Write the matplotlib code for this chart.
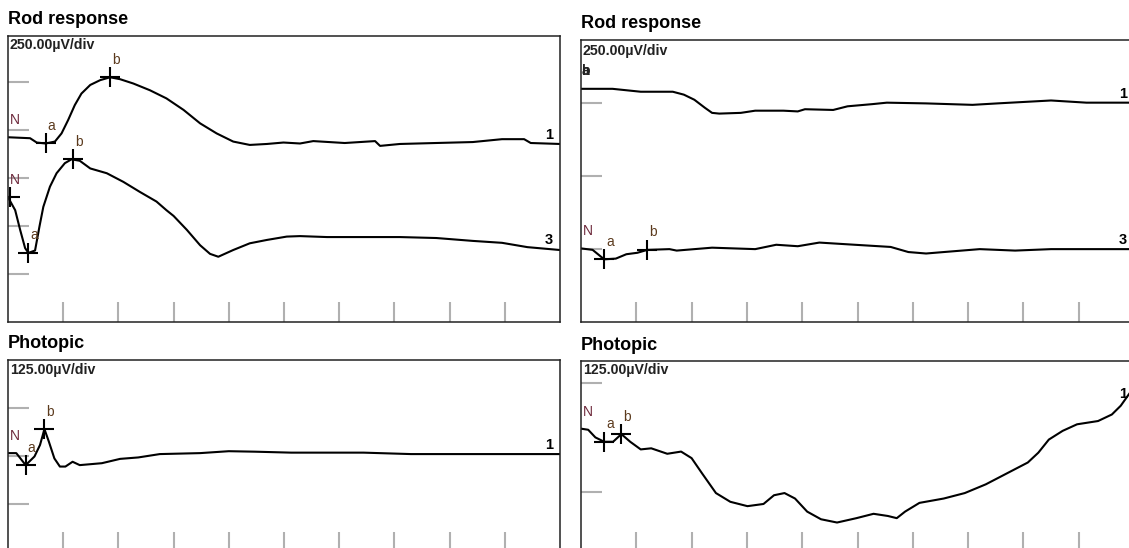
import matplotlib
matplotlib.use("Agg")
import matplotlib.pyplot as plt
import numpy as np

plt.rcParams['font.family'] = ['Liberation Sans', 'DejaVu Sans']

W, H = 1129, 548

# --- traces, in screen divisions (x: time div, y: amplitude div) ---
# Rod response, left eye
tl1_t = [0, 0.40, 0.52, 0.68, 0.85, 0.97, 1.09, 1.21, 1.33, 1.49, 1.67, 1.85, 2.03, 2.27, 2.57,
         2.87, 3.18, 3.48, 3.78, 4.08, 4.38, 4.69, 4.99, 5.29, 5.53, 6.1, 6.65, 6.74, 7.1, 7.75,
         8.42, 8.95, 9.35, 9.47, 10]
tl1_v = [3.85, 3.83, 3.74, 3.72, 3.76, 3.93, 4.21, 4.52, 4.76, 4.94, 5.04, 5.10, 5.06, 4.97, 4.83,
         4.66, 4.42, 4.14, 3.93, 3.76, 3.69, 3.71, 3.74, 3.72, 3.77, 3.73, 3.77, 3.67, 3.71, 3.73,
         3.75, 3.81, 3.81, 3.73, 3.71]
tl3_t = [0, 0.13, 0.22, 0.31, 0.37, 0.49, 0.57, 0.64, 0.76, 0.88, 1.03, 1.15, 1.30, 1.49, 1.79,
         2.09, 2.39, 2.69, 2.87, 3.0, 3.24, 3.48, 3.66, 3.81, 4.08, 4.38, 4.69, 5.05, 5.29, 5.78,
         6.45, 7.1, 7.76, 8.42, 8.95, 9.41, 10]
tl3_v = [2.6, 2.33, 1.92, 1.54, 1.44, 1.49, 1.99, 2.40, 2.82, 3.10, 3.31, 3.39, 3.36, 3.20, 3.10,
         2.92, 2.71, 2.51, 2.33, 2.21, 1.92, 1.60, 1.42, 1.36, 1.50, 1.64, 1.71, 1.78, 1.79, 1.77,
         1.77, 1.77, 1.75, 1.69, 1.65, 1.56, 1.5]

# Rod response, right eye
tr1_t = [0, 0.57, 1.08, 1.66, 1.86, 2.05, 2.24, 2.37, 2.50, 2.89, 3.15, 3.66, 3.92, 4.05, 4.56,
         4.82, 5.27, 5.53, 6.24, 7.08, 7.53, 8.50, 9.14, 10]
tr1_v = [3.20, 3.20, 3.16, 3.16, 3.12, 3.05, 2.94, 2.87, 2.86, 2.87, 2.90, 2.90, 2.89, 2.92, 2.91,
         2.96, 2.99, 3.01, 3.00, 2.98, 3.00, 3.04, 3.01, 3.01]
tr3_t = [0, 0.21, 0.42, 0.63, 0.82, 1.02, 1.20, 1.60, 1.73, 2.37, 3.15, 3.53, 3.92, 4.31, 4.95,
         5.60, 5.92, 6.24, 6.56, 7.21, 7.85, 8.50, 10]
tr3_v = [1.01, 0.99, 0.86, 0.87, 0.93, 0.95, 0.99, 1.00, 0.98, 1.02, 1.00, 1.06, 1.04, 1.09, 1.06,
         1.03, 0.96, 0.94, 0.96, 1.00, 0.98, 1.00, 1.00]

# Photopic, left eye
bl_t = [0, 0.15, 0.32, 0.48, 0.58, 0.66, 0.74, 0.84, 0.94, 1.04, 1.17, 1.30, 1.70, 2.03, 2.36,
        2.75, 3.48, 4.0, 4.47, 5.13, 5.78, 6.44, 7.30, 10]
bl_v = [2.06, 2.06, 1.81, 1.99, 2.23, 2.56, 2.30, 1.95, 1.78, 1.78, 1.88, 1.81, 1.85, 1.94, 1.97,
        2.04, 2.06, 2.10, 2.09, 2.07, 2.07, 2.07, 2.04, 2.04]

# Photopic, right eye
br_t = [0, 0.13, 0.26, 0.42, 0.58, 0.73, 0.89, 1.08, 1.27, 1.56, 1.81, 2.0, 2.19, 2.44, 2.70,
        3.01, 3.30, 3.49, 3.68, 3.87, 4.09, 4.34, 4.63, 4.98, 5.29, 5.55, 5.71, 5.86, 6.12, 6.56,
        6.94, 7.32, 7.70, 8.08, 8.27, 8.46, 8.71, 8.97, 9.35, 9.60, 9.76, 9.90, 10]
br_v = [1.58, 1.57, 1.50, 1.46, 1.46, 1.53, 1.46, 1.39, 1.40, 1.35, 1.37, 1.31, 1.17, 0.99, 0.91,
        0.87, 0.89, 0.97, 0.99, 0.94, 0.82, 0.75, 0.72, 0.76, 0.80, 0.78, 0.76, 0.82, 0.90, 0.94,
        0.99, 1.07, 1.17, 1.27, 1.36, 1.48, 1.56, 1.62, 1.65, 1.71, 1.79, 1.89, 1.96]

# a / b wave cursors (t, v)
tl1_ab = [(0.68, 3.72), (1.85, 5.10)]
tl3_ab = [(0.37, 1.44), (1.17, 3.39)]
tr1_ab = [(0.0, 3.20), (0.0, 3.20)]
tr3_ab = [(0.42, 0.86), (1.20, 0.99)]
bl_ab = [(0.32, 1.81), (0.66, 2.56)]
br_ab = [(0.42, 1.46), (0.73, 1.53)]

titles = ['Rod response', 'Rod response', 'Photopic', 'Photopic']
scales = ['250.00µV/div', '250.00µV/div', '125.00µV/div', '125.00µV/div']

N_COL = '#6e2a3c'
AB_COL = '#5c3b1e'
PX = 0.72  # points per pixel at dpi 100


def px_axes(fig, left, top, right, bottom):
    return fig.add_axes([left / W, 1 - bottom / H, (right - left) / W, (bottom - top) / H])


def setup(ax, ylim, yticks):
    ax.set_xlim(0, 10)
    ax.set_ylim(*ylim)
    ax.set_xticks(np.arange(1, 10))
    ax.set_yticks(yticks)
    ax.tick_params(axis='x', direction='in', length=20 * PX, width=1.5, color='#b0b0b0',
                   labelbottom=False)
    ax.tick_params(axis='y', direction='in', length=21 * PX, width=1.5, color='#b0b0b0',
                   labelleft=False)
    for s in ax.spines.values():
        s.set_linewidth(1.1)
        s.set_color('#222222')


def trace(ax, t, v, num, ab, n_mark=False):
    ax.plot(t, v, color='black', lw=1.5)
    # N label above start
    ax.annotate('N', xy=(0, v[0]), xytext=(2 * PX, 17 * PX), textcoords='offset points',
                ha='left', va='center', fontsize=10, color=N_COL)
    if n_mark:
        ax.plot([0.03], [v[0]], marker='+', ms=14, mew=1.5, color='black')
    for (x, y), lab in zip(ab, ['a', 'b']):
        ax.plot([x], [y], marker='+', ms=14, mew=1.5, color='black')
        ax.annotate(lab, xy=(x, y), xytext=(6 * PX, 17.5 * PX), textcoords='offset points',
                    ha='center', va='center', fontsize=10, color=AB_COL)
    yend = np.interp(9.8, t, v)
    ax.annotate(num, xy=(9.8, yend), xytext=(0, 9 * PX), textcoords='offset points',
                ha='center', va='center', fontsize=10.5, fontweight='bold')


fig = plt.figure(figsize=(W / 100, H / 100), dpi=100)

ax_tl = px_axes(fig, 8, 36, 560, 322)
setup(ax_tl, (0, 5.96), [1, 2, 3, 4, 5])
trace(ax_tl, tl1_t, tl1_v, '1', tl1_ab)
trace(ax_tl, tl3_t, tl3_v, '3', tl3_ab, n_mark=True)

ax_tr = px_axes(fig, 581, 40, 1134, 322)
setup(ax_tr, (0, 3.87), [1, 2, 3])
ax_tr.plot(tr1_t, tr1_v, color='black', lw=1.5)
for lab in ['a', 'b']:
    ax_tr.annotate(lab, xy=tr1_ab[0], xytext=(4 * PX, 17.5 * PX), textcoords='offset points',
                   ha='center', va='center', fontsize=10, color='#222222', fontweight='bold')
ax_tr.annotate('1', xy=(9.8, np.interp(9.8, tr1_t, tr1_v)), xytext=(0, 9 * PX),
               textcoords='offset points', ha='center', va='center', fontsize=10.5,
               fontweight='bold')
trace(ax_tr, tr3_t, tr3_v, '3', tr3_ab)

ax_bl = px_axes(fig, 8, 360, 560, 552)
setup(ax_bl, (0, 4), [1, 2, 3])
trace(ax_bl, bl_t, bl_v, '1', bl_ab)

ax_br = px_axes(fig, 581, 361, 1134, 552)
setup(ax_br, (0.45, 2.2), [1, 2])
trace(ax_br, br_t, br_v, '1', br_ab)

# panel titles and scale captions
for (x, y), s in zip([(8, 19), (581, 24), (8, 344), (581, 345)], titles):
    fig.text(x / W, 1 - y / H, s, ha='left', va='center', fontsize=13, fontweight='bold')
for (x, y), s in zip([(10, 45), (583, 51), (10, 370), (583, 370)], scales):
    fig.text(x / W, 1 - y / H, s, ha='left', va='center', fontsize=10.2, fontweight='bold',
             color='#222222')

fig.savefig('out.png', dpi=100)
